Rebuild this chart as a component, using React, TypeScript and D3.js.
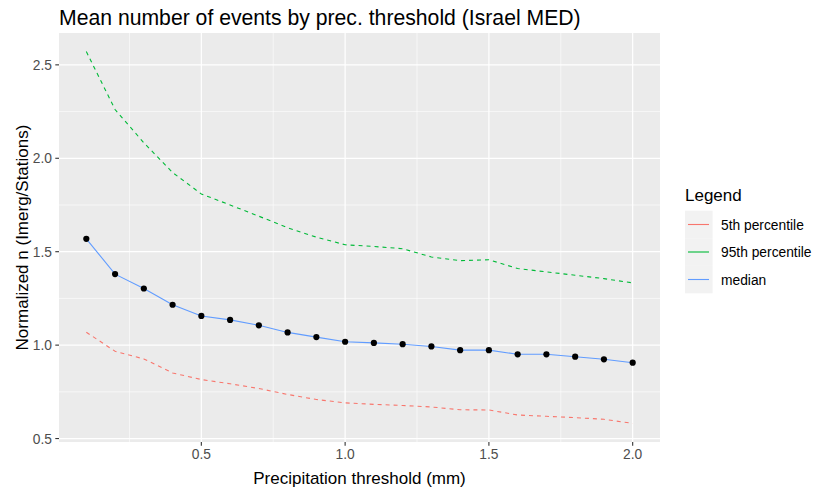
import * as d3 from 'd3'

const thresholds = [0.1, 0.2, 0.3, 0.4, 0.5, 0.6, 0.7, 0.8, 0.9, 1.0, 1.1, 1.2, 1.3, 1.4, 1.5, 1.6, 1.7, 1.8, 1.9, 2.0]
const median = [1.569, 1.38, 1.303, 1.216, 1.156, 1.135, 1.106, 1.068, 1.043, 1.018, 1.012, 1.005, 0.993, 0.973, 0.973, 0.951, 0.951, 0.938, 0.924, 0.906]
const p95 = [2.571, 2.261, 2.083, 1.924, 1.809, 1.75, 1.69, 1.628, 1.578, 1.537, 1.528, 1.516, 1.472, 1.452, 1.457, 1.41, 1.392, 1.374, 1.356, 1.333]
const p5 = [1.069, 0.967, 0.926, 0.851, 0.816, 0.793, 0.768, 0.736, 0.709, 0.691, 0.683, 0.677, 0.669, 0.654, 0.653, 0.626, 0.619, 0.612, 0.603, 0.581]

const xTicks = [0.5, 1.0, 1.5, 2.0]
const xMinor = [0.25, 0.75, 1.25, 1.75]
const yTicks = [0.5, 1.0, 1.5, 2.0, 2.5]
const yMinor = [0.75, 1.25, 1.75, 2.25]

const legendItems = [
  { label: '5th percentile', color: '#F8766D' },
  { label: '95th percentile', color: '#00BA38' },
  { label: 'median', color: '#619CFF' },
]

const font = '"Liberation Sans", Arial, sans-serif'

const App = () => {
  const width = 818
  const height = 494
  const panel = { left: 59, top: 33, right: 660, bottom: 442 }

  const allY = [...p5, ...p95]
  const yLo = d3.min(allY) as number
  const yHi = d3.max(allY) as number
  const yPad = (yHi - yLo) * 0.05
  const xPad = (2.0 - 0.1) * 0.05

  const x = d3.scaleLinear().domain([0.1 - xPad, 2.0 + xPad]).range([panel.left, panel.right])
  const y = d3.scaleLinear().domain([yLo - yPad, yHi + yPad]).range([panel.bottom, panel.top])

  const lineGen = d3
    .line<number>()
    .x((_, i) => x(thresholds[i]))
    .y((d) => y(d))

  return (
    <svg width={width} height={height} style={{ position: 'absolute', left: 0, top: 0 }}>
      <rect x={0} y={0} width={width} height={height} fill="white" />
      <text x={panel.left} y={25} fontFamily={font} fontSize={21.2} fill="black">
        Mean number of events by prec. threshold (Israel MED)
      </text>

      <rect
        x={panel.left}
        y={panel.top}
        width={panel.right - panel.left}
        height={panel.bottom - panel.top}
        fill="#EBEBEB"
      />
      {xMinor.map((t) => (
        <line key={'xm' + t} x1={x(t)} x2={x(t)} y1={panel.top} y2={panel.bottom} stroke="white" strokeWidth={0.6} />
      ))}
      {yMinor.map((t) => (
        <line key={'ym' + t} x1={panel.left} x2={panel.right} y1={y(t)} y2={y(t)} stroke="white" strokeWidth={0.6} />
      ))}
      {xTicks.map((t) => (
        <line key={'xg' + t} x1={x(t)} x2={x(t)} y1={panel.top} y2={panel.bottom} stroke="white" strokeWidth={1.2} />
      ))}
      {yTicks.map((t) => (
        <line key={'yg' + t} x1={panel.left} x2={panel.right} y1={y(t)} y2={y(t)} stroke="white" strokeWidth={1.2} />
      ))}

      <path d={lineGen(p5) ?? ''} fill="none" stroke="#F8766D" strokeWidth={1.1} strokeDasharray="4,4" />
      <path d={lineGen(p95) ?? ''} fill="none" stroke="#00BA38" strokeWidth={1.1} strokeDasharray="4,4" />
      <path d={lineGen(median) ?? ''} fill="none" stroke="#619CFF" strokeWidth={1.1} />
      {median.map((v, i) => (
        <circle key={'pt' + i} cx={x(thresholds[i])} cy={y(v)} r={3.1} fill="black" />
      ))}

      {xTicks.map((t) => (
        <g key={'xt' + t}>
          <line x1={x(t)} x2={x(t)} y1={panel.bottom} y2={panel.bottom + 3.7} stroke="#333333" strokeWidth={1.1} />
          <text x={x(t)} y={panel.bottom + 16.5} textAnchor="middle" fontFamily={font} fontSize={13.8} fill="#4D4D4D">
            {t.toFixed(1)}
          </text>
        </g>
      ))}
      {yTicks.map((t) => (
        <g key={'yt' + t}>
          <line x1={panel.left - 3.7} x2={panel.left} y1={y(t)} y2={y(t)} stroke="#333333" strokeWidth={1.1} />
          <text x={panel.left - 7} y={y(t) + 5} textAnchor="end" fontFamily={font} fontSize={13.8} fill="#4D4D4D">
            {t.toFixed(1)}
          </text>
        </g>
      ))}

      <text x={(panel.left + panel.right) / 2} y={484} textAnchor="middle" fontFamily={font} fontSize={17} fill="black">
        Precipitation threshold (mm)
      </text>
      <text
        transform={`translate(28, ${(panel.top + panel.bottom) / 2}) rotate(-90)`}
        textAnchor="middle"
        fontFamily={font}
        fontSize={17}
        fill="black"
      >
        Normalized n (Imerg/Stations)
      </text>

      <text x={685} y={201} fontFamily={font} fontSize={17} fill="black">
        Legend
      </text>
      {legendItems.map((item, i) => {
        const cy = 224.5 + i * 27.5
        return (
          <g key={item.label}>
            <rect x={685} y={cy - 13.8} width={27.6} height={27.6} fill="#F2F2F2" />
            <line x1={688} x2={709} y1={cy} y2={cy} stroke={item.color} strokeWidth={1.1} />
            <text x={721} y={cy + 5} fontFamily={font} fontSize={13.8} fill="black">
              {item.label}
            </text>
          </g>
        )
      })}
    </svg>
  )
}

export default App
